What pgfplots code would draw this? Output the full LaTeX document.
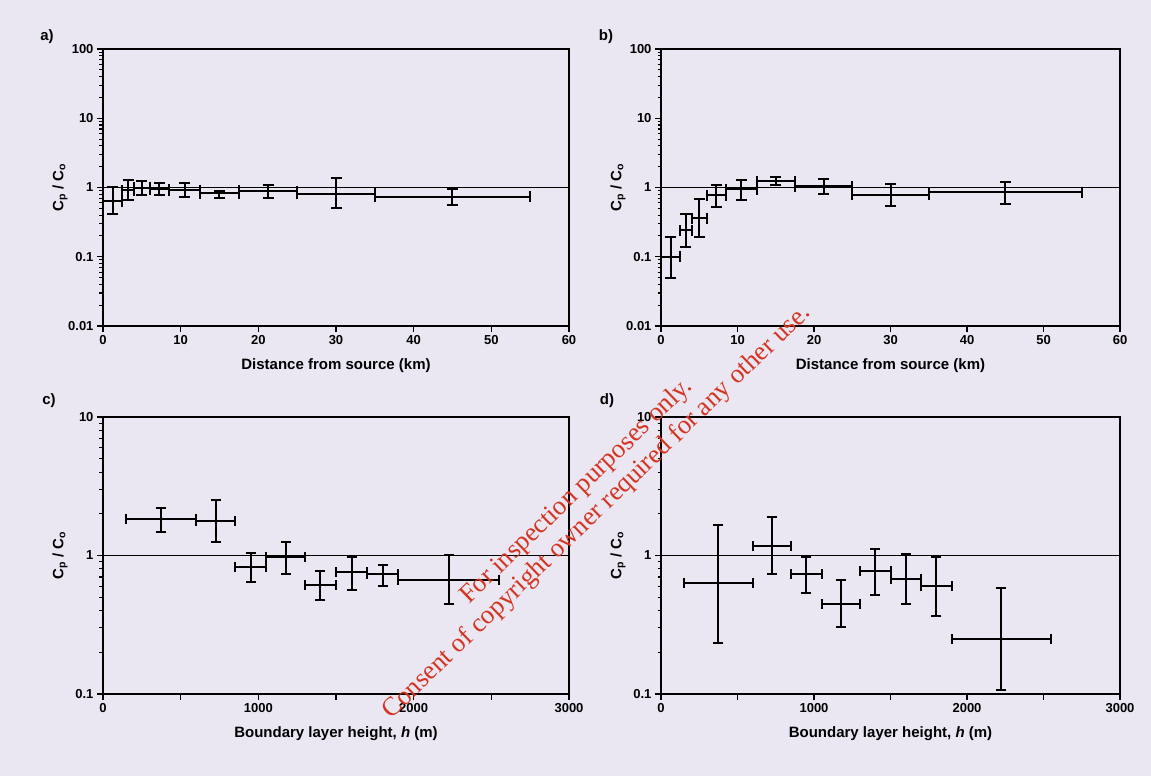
\documentclass[border=0pt]{standalone}
\usepackage{fontspec}
\setmainfont{Liberation Sans}
\newfontfamily\wmfont{Liberation Serif}
\usepackage{pgfplots}
\pgfplotsset{compat=1.18}

\definecolor{paper}{RGB}{234,231,242}
\definecolor{stamp}{RGB}{212,52,32}

\newcommand{\tickfont}{\fontsize{13}{13}\selectfont\bfseries}
\newcommand{\labfont}{\fontsize{15}{15}\selectfont\bfseries}

\pgfplotsset{
  mypanel/.style={
    scale only axis, height=277pt,
    axis line style={line width=1.3pt},
    every tick/.style={black, line width=1.1pt},
    tick align=outside,
    major tick length=6pt, minor tick length=3.5pt,
    xtick pos=bottom, ytick pos=left,
    ticklabel style={font=\tickfont},
    every axis x label/.style={at={([yshift=-40pt]axis description cs:0.5,0)}, anchor=center, font=\labfont},
    every axis y label/.style={at={([xshift=-43pt]axis description cs:0,0.5)}, anchor=center, rotate=90, font=\labfont},
    ylabel={C\textsubscript{p} / C\textsubscript{o}},
  },
  mydist/.style={
    xmin=0, xmax=60, xtick={0,10,...,60}, xticklabels={0,10,20,30,40,50,60},
    ymin=0.01, ymax=100,
    ytick={0.01,0.1,1,10,100}, yticklabels={0.01,0.1,1,10,100},
    minor ytick={0.02,0.03,0.04,0.05,0.06,0.07,0.08,0.09,
                 0.2,0.3,0.4,0.5,0.6,0.7,0.8,0.9,
                 2,3,4,5,6,7,8,9,20,30,40,50,60,70,80,90},
    xlabel={Distance from source (km)},
  },
  myblh/.style={
    xmin=0, xmax=3000, xtick={0,500,...,3000}, xticklabels={0,,1000,,2000,,3000},
    ymin=0.1, ymax=10,
    ytick={0.1,1,10}, yticklabels={0.1,1,10},
    minor ytick={0.2,0.3,0.4,0.5,0.6,0.7,0.8,0.9,2,3,4,5,6,7,8,9},
    xlabel={Boundary layer height, \textit{h} (m)},
  },
  myunity/.style={black, line width=1.4pt},
  myerr/.style={draw=none, mark=none,
    error bars/.cd, x dir=both, x explicit, y dir=both, y explicit,
    error bar style={draw=black, line width=2pt},
    error mark options={rotate=90, draw=black, mark size=#1, line width=2pt}},
}

\begin{document}
\begin{tikzpicture}
\fill[paper] (0,0) rectangle (1151pt,776pt);
\useasboundingbox (0,0) rectangle (1151pt,776pt);

% a)
\begin{axis}[ymode=log, mypanel, mydist, width=466pt, at={(103pt,450pt)}, anchor=south west]
  \addplot[myunity] coordinates {(0,1) (60,1)};
  \addplot[myerr=5.5pt] coordinates {
    (1.25,0.63) += (1.25,0.37) -= (1.25,0.22)
    (3.25,0.92) += (0.75,0.37) -= (0.75,0.27)
    (5,0.99)    += (1,0.27)    -= (1,0.21)
    (7.25,0.95) += (1.25,0.21) -= (1.25,0.17)
    (10.5,0.92) += (2,0.25)    -= (2,0.20)
    (15,0.82)   += (2.5,0.08)  -= (2.5,0.12)
    (21.25,0.89) += (3.75,0.20) -= (3.75,0.18)
    (30,0.81)   += (5,0.56)    -= (5,0.31)
    (45,0.73)   += (10,0.22)   -= (10,0.18)
  };
\end{axis}

% b)
\begin{axis}[ymode=log, mypanel, mydist, width=459pt, at={(661pt,450pt)}, anchor=south west]
  \addplot[myunity] coordinates {(0,1) (60,1)};
  \addplot[myerr=5.5pt] coordinates {
    (1.25,0.10) += (1.25,0.095) -= (1.25,0.051)
    (3.25,0.24) += (0.75,0.17)  -= (0.75,0.10)
    (5,0.36)    += (1,0.33)     -= (1,0.17)
    (7.25,0.77) += (1.25,0.32)  -= (1.25,0.25)
    (10.5,0.94) += (2,0.35)     -= (2,0.29)
    (15,1.24)   += (2.5,0.17)   -= (2.5,0.14)
    (21.25,1.04) += (3.75,0.30) -= (3.75,0.23)
    (30,0.78)   += (5,0.35)     -= (5,0.24)
    (45,0.86)   += (10,0.33)    -= (10,0.28)
  };
\end{axis}

% c)
\begin{axis}[ymode=log, mypanel, myblh, width=466pt, at={(103pt,82pt)}, anchor=south west]
  \addplot[myunity] coordinates {(0,1) (3000,1)};
  \addplot[myerr=5pt] coordinates {
    (375,1.83)  += (225,0.39) -= (225,0.34)
    (725,1.78)  += (125,0.74) -= (125,0.52)
    (950,0.82)  += (100,0.23) -= (100,0.18)
    (1175,0.98) += (125,0.28) -= (125,0.24)
    (1400,0.61) += (100,0.16) -= (100,0.13)
    (1600,0.76) += (100,0.22) -= (100,0.20)
    (1800,0.73) += (100,0.13) -= (100,0.13)
    (2225,0.67) += (325,0.33) -= (325,0.22)
  };
\end{axis}

% d)
\begin{axis}[ymode=log, mypanel, myblh, width=459pt, at={(661pt,82pt)}, anchor=south west]
  \addplot[myunity] coordinates {(0,1) (3000,1)};
  \addplot[myerr=5pt] coordinates {
    (375,0.63)  += (225,1.04) -= (225,0.395)
    (725,1.18)  += (125,0.72) -= (125,0.45)
    (950,0.73)  += (100,0.25) -= (100,0.19)
    (1175,0.45) += (125,0.21) -= (125,0.145)
    (1400,0.77) += (100,0.34) -= (100,0.25)
    (1600,0.68) += (100,0.34) -= (100,0.23)
    (1800,0.60) += (100,0.38) -= (100,0.235)
    (2225,0.248) += (325,0.332) -= (325,0.142)
  };
\end{axis}

\node[font=\labfont] at (47pt,739pt) {a)};
\node[font=\labfont] at (606pt,739pt) {b)};
\node[font=\labfont] at (49pt,375pt) {c)};
\node[font=\labfont] at (607pt,375pt) {d)};

\node[text=stamp, font=\wmfont\fontsize{26.5}{29}\selectfont, align=center, rotate=44]
  at (587pt,274pt) {For inspection purposes only.\\Consent of copyright owner required for any other use.};
\end{tikzpicture}
\end{document}
